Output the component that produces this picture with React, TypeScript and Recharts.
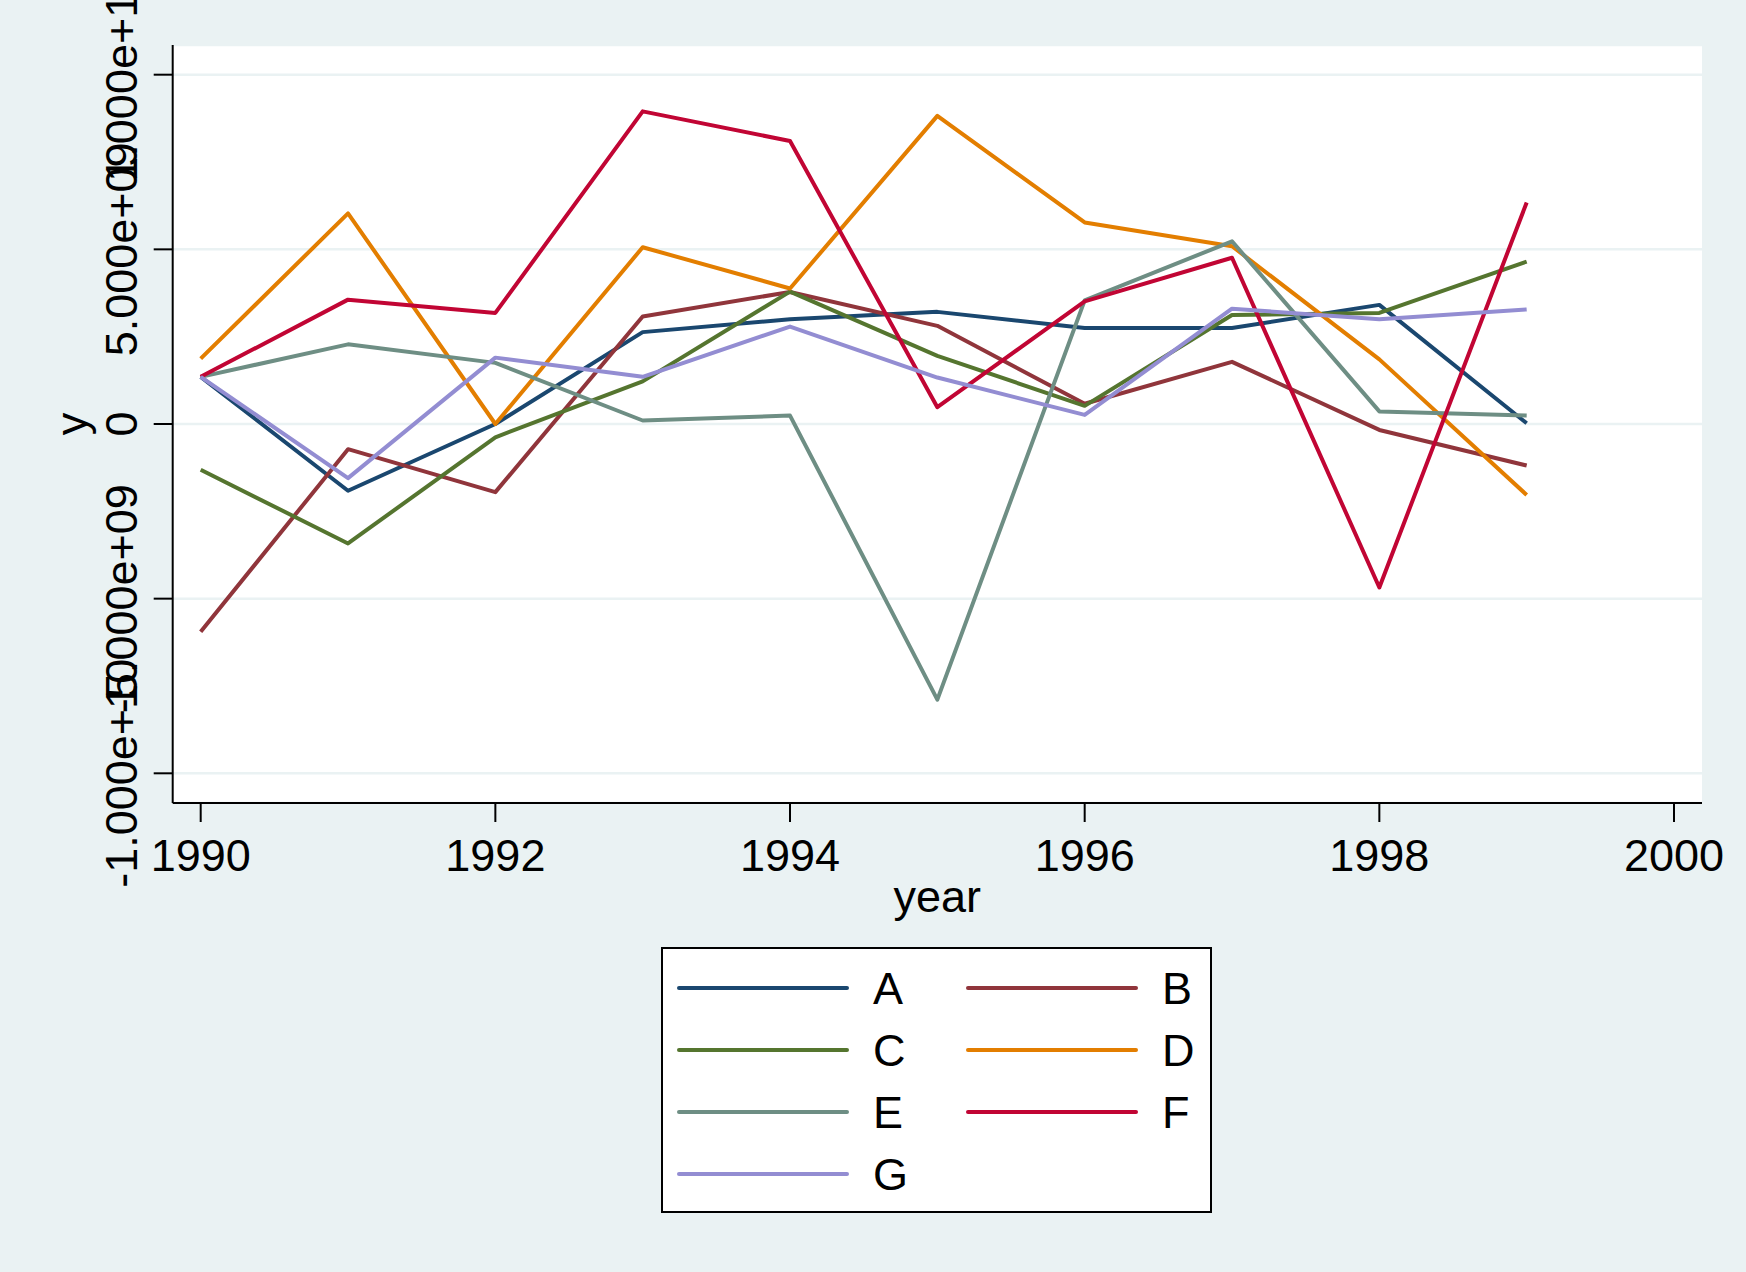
import React from 'react';
import { LineChart, Line, XAxis, YAxis, CartesianGrid, Legend, Label } from 'recharts';

const years = [1990, 1991, 1992, 1993, 1994, 1995, 1996, 1997, 1998, 1999];

const seriesA = [1.35e9, -1.91e9, 0.0, 2.63e9, 3.0e9, 3.21e9, 2.75e9, 2.75e9, 3.41e9, 0.02e9];
const seriesB = [-5.95e9, -0.72e9, -1.95e9, 3.08e9, 3.78e9, 2.81e9, 0.58e9, 1.78e9, -0.17e9, -1.19e9];
const seriesC = [-1.31e9, -3.42e9, -0.38e9, 1.22e9, 3.79e9, 1.95e9, 0.52e9, 3.12e9, 3.18e9, 4.65e9];
const seriesD = [1.87e9, 6.03e9, 0.0, 5.06e9, 3.88e9, 8.82e9, 5.77e9, 5.09e9, 1.85e9, -2.03e9];
const seriesE = [1.35e9, 2.28e9, 1.75e9, 0.1e9, 0.24e9, -7.89e9, 3.54e9, 5.23e9, 0.36e9, 0.24e9];
const seriesF = [1.35e9, 3.56e9, 3.18e9, 8.95e9, 8.1e9, 0.48e9, 3.51e9, 4.76e9, -4.68e9, 6.34e9];
const seriesG = [1.35e9, -1.55e9, 1.9e9, 1.35e9, 2.79e9, 1.33e9, 0.26e9, 3.3e9, 3.0e9, 3.28e9];

const seriesNames = ['A', 'B', 'C', 'D', 'E', 'F', 'G'];
const seriesValues = [seriesA, seriesB, seriesC, seriesD, seriesE, seriesF, seriesG];
const seriesColors = ['#1a476f', '#90353b', '#55752f', '#e37e00', '#6e8e84', '#c10534', '#938dd2'];

const xTicks = [1990, 1992, 1994, 1996, 1998, 2000];
const yTicks = [-1e10, -5e9, 0, 5e9, 1e10];
const yTickLabels = ['-1.000e+10', '-5.000e+09', '0', '5.000e+09', '1.000e+10'];

const data = years.map((year, i) => {
  const row: Record<string, number> = { year };
  seriesNames.forEach((name, s) => {
    row[name] = seriesValues[s][i];
  });
  return row;
});

const FONT = '"Liberation Sans", Arial, Helvetica, sans-serif';
const BG = '#eaf2f3';

const YTick = (props: any) => {
  const { y, payload } = props;
  const idx = yTicks.indexOf(payload.value);
  return (
    <text x={137} y={y} transform={`rotate(-90, 137, ${y})`} textAnchor="middle" fontSize={45} fill="#000">
      {idx >= 0 ? yTickLabels[idx] : payload.value}
    </text>
  );
};

const XTick = (props: any) => {
  const { x, y, payload } = props;
  return (
    <text x={x} y={y + 49} textAnchor="middle" fontSize={45} fill="#000">
      {payload.value}
    </text>
  );
};

const renderLegend = (props: any) => {
  const items = props.payload || [];
  return (
    <svg width={551} height={266} style={{ display: 'block' }}>
      <rect x={1} y={1} width={549} height={264} fill="#fff" stroke="#000" strokeWidth={2} />
      {items.map((it: any, i: number) => {
        const col = i % 2;
        const row = Math.floor(i / 2);
        const lx = col === 0 ? 18 : 307;
        const cy = 41 + row * 62;
        return (
          <g key={it.value}>
            <line x1={lx} x2={lx + 168} y1={cy} y2={cy} stroke={it.color} strokeWidth={4} strokeLinecap="round" />
            <text x={lx + 194} y={cy + 16} fontSize={45} fill="#000">{it.value}</text>
          </g>
        );
      })}
    </svg>
  );
};

const App: React.FC = () => {
  return (
    <div style={{ position: 'absolute', left: 0, top: 0, width: 1746, height: 1272, background: BG, fontFamily: FONT }}>
      <LineChart width={1746} height={1272} data={data} margin={{ top: 45, right: 44, bottom: 0, left: 0 }}>
        <CartesianGrid vertical={false} fill="#ffffff" stroke={BG} strokeWidth={2.5} />
        <XAxis
          dataKey="year"
          type="number"
          domain={[1989.81, 2000.19]}
          ticks={xTicks}
          allowDataOverflow
          height={469}
          tickSize={19}
          tickMargin={0}
          stroke="#000"
          strokeWidth={2}
          tick={<XTick />}
        >
          <Label
            content={(p: any) => {
              const vb = p.viewBox || {};
              return (
                <text x={vb.x + vb.width / 2} y={912} textAnchor="middle" fontSize={45} fill="#000">year</text>
              );
            }}
          />
        </XAxis>
        <YAxis
          type="number"
          domain={[-10.85e9, 10.85e9]}
          ticks={yTicks}
          allowDataOverflow
          width={172.7}
          tickSize={19}
          tickMargin={0}
          stroke="#000"
          strokeWidth={2}
          tick={<YTick />}
        >
          <Label
            content={(p: any) => {
              const vb = p.viewBox || {};
              const cy = vb.y + vb.height / 2;
              return (
                <text x={87} y={cy} transform={`rotate(-90, 87, ${cy})`} textAnchor="middle" fontSize={45} fill="#000">y</text>
              );
            }}
          />
        </YAxis>
        <Legend
          layout="horizontal"
          verticalAlign="middle"
          align="center"
          wrapperStyle={{ left: 661, top: 947, width: 551, height: 266 }}
          content={renderLegend}
        />
        {seriesNames.map((name, s) => (
          <Line
            key={name}
            type="linear"
            dataKey={name}
            name={name}
            stroke={seriesColors[s]}
            strokeWidth={4}
            strokeLinejoin="round"
            dot={false}
            activeDot={false}
            isAnimationActive={false}
          />
        ))}
      </LineChart>
    </div>
  );
};

export default App;
